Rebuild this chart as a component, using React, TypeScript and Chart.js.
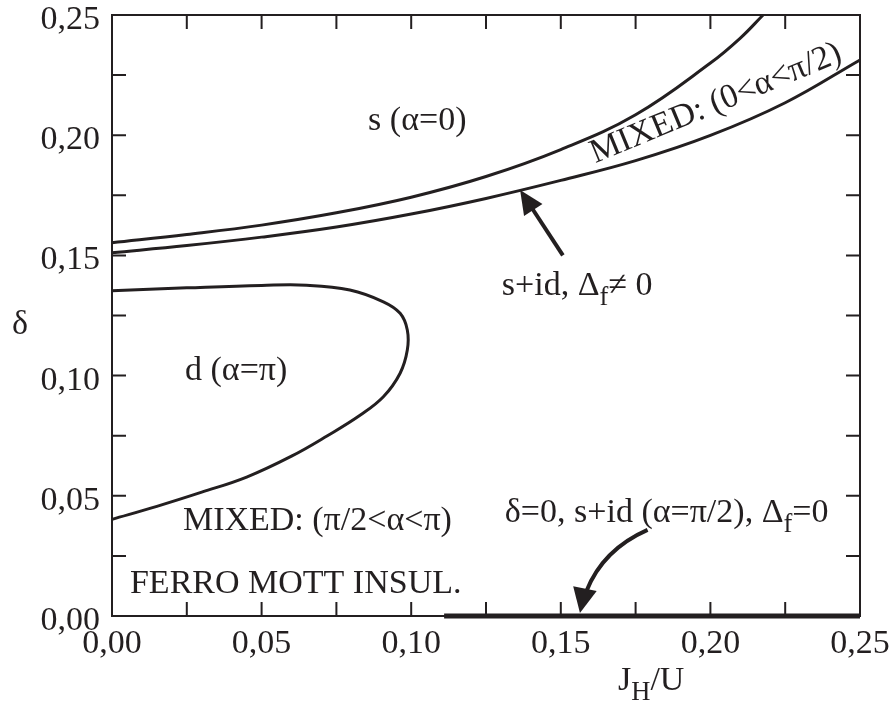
import React, { useEffect, useRef } from 'react';
import { Chart, registerables } from 'chart.js';
Chart.register(...registerables);

// ---- data (J_H/U , delta) ----
const upperX = [0, 0.025, 0.05, 0.075, 0.1, 0.125, 0.15, 0.175, 0.2, 0.21, 0.2176];
const upperY = [0.1553, 0.1587, 0.1626, 0.1677, 0.1742, 0.1828, 0.194, 0.2085, 0.23, 0.2404, 0.25];

const lowerX = [0, 0.025, 0.05, 0.075, 0.1, 0.125, 0.15, 0.175, 0.2, 0.225, 0.25];
const lowerY = [0.1511, 0.1541, 0.1576, 0.1618, 0.1672, 0.1737, 0.1812, 0.1894, 0.1999, 0.2135, 0.2313];

const dX = [0, 0.025, 0.05, 0.065, 0.0795, 0.0907, 0.0963, 0.0987, 0.0987, 0.0963, 0.0907, 0.0829, 0.072, 0.06, 0.045, 0.03, 0.015, 0];
const dY = [0.1353, 0.1365, 0.1375, 0.1376, 0.1356, 0.1307, 0.1259, 0.119, 0.1106, 0.101, 0.0912, 0.0835, 0.075, 0.0665, 0.0578, 0.0515, 0.0456, 0.0402];

const zeroX = [0.111, 0.25];
const zeroY = [0, 0];

const tickValues = [0, 0.025, 0.05, 0.075, 0.1, 0.125, 0.15, 0.175, 0.2, 0.225, 0.25];

// labels: text, anchor (data coords), rotation (deg)
const noteTexts = [
  's (α=0)',
  'MIXED: (0<α<π/2)',
  's+id, Δ_{f}≠ 0',
  'd (α=π)',
  'MIXED: (π/2<α<π)',
  'δ=0, s+id (α=π/2), Δ_{f}=0',
  'FERRO MOTT INSUL.',
];
const noteX = [0.0856, 0.1615, 0.1303, 0.0244, 0.0237, 0.1313, 0.006];
const noteY = [0.2022, 0.1883, 0.1335, 0.0982, 0.0358, 0.0391, 0.0096];
const noteRot = [0, -22.5, 0, 0, 0, 0, 0];

// arrows: tail -> tip (data coords); curved arrow has a control point
const arrowStraight = { from: [0.1507, 0.150], to: [0.1364, 0.1772] };
const arrowCurved = { from: [0.179, 0.0358], ctrl: [0.1604, 0.0256], to: [0.1564, 0.0012] };

const xTitle = 'J_{H}/U';
const yTitle = 'δ';

const INK = '#231f20';
const FONT = '"Liberation Serif", "Times New Roman", serif';
const SIZE = 34;

const toPts = (xs: number[], ys: number[]) => xs.map((x, i) => ({ x, y: ys[i] }));
const fmt = (v: number) => v.toFixed(2).replace('.', ',');

function parseRuns(s: string) {
  const runs: { t: string; sub: boolean }[] = [];
  const re = /_\{([^}]*)\}/g;
  let last = 0;
  let m: RegExpExecArray | null;
  while ((m = re.exec(s))) {
    if (m.index > last) runs.push({ t: s.slice(last, m.index), sub: false });
    runs.push({ t: m[1], sub: true });
    last = m.index + m[0].length;
  }
  if (last < s.length) runs.push({ t: s.slice(last), sub: false });
  return runs;
}

function drawRuns(ctx: CanvasRenderingContext2D, s: string, x: number, y: number, size: number) {
  let cx = x;
  ctx.textAlign = 'left';
  ctx.textBaseline = 'alphabetic';
  for (const r of parseRuns(s)) {
    const fs = r.sub ? size * 0.78 : size;
    ctx.font = `${fs}px ${FONT}`;
    ctx.fillText(r.t, cx, y + (r.sub ? size * 0.3 : 0));
    cx += ctx.measureText(r.t).width;
  }
}

function head(ctx: CanvasRenderingContext2D, tipX: number, tipY: number, ang: number, len: number, half: number) {
  const bx = tipX - Math.cos(ang) * len;
  const by = tipY - Math.sin(ang) * len;
  const nx = -Math.sin(ang) * half;
  const ny = Math.cos(ang) * half;
  ctx.beginPath();
  ctx.moveTo(tipX, tipY);
  ctx.lineTo(bx + nx, by + ny);
  ctx.lineTo(bx - nx, by - ny);
  ctx.closePath();
  ctx.fill();
}

const overlay = {
  id: 'overlay',
  afterDatasetsDraw(chart: any) {
    const { ctx, chartArea: a, scales } = chart;
    const xs = scales.x;
    const ys = scales.y;
    ctx.save();
    ctx.strokeStyle = INK;
    ctx.fillStyle = INK;

    // frame
    ctx.lineWidth = 2;
    ctx.strokeRect(a.left, a.top, a.right - a.left, a.bottom - a.top);

    // inward ticks on all sides
    const L = 14;
    ctx.beginPath();
    tickValues.forEach((v) => {
      const px = xs.getPixelForValue(v);
      ctx.moveTo(px, a.bottom);
      ctx.lineTo(px, a.bottom - L);
      ctx.moveTo(px, a.top);
      ctx.lineTo(px, a.top + L);
      const py = ys.getPixelForValue(v);
      ctx.moveTo(a.left, py);
      ctx.lineTo(a.left + L, py);
      ctx.moveTo(a.right, py);
      ctx.lineTo(a.right - L, py);
    });
    ctx.stroke();

    // notes
    noteTexts.forEach((t, i) => {
      const px = xs.getPixelForValue(noteX[i]);
      const py = ys.getPixelForValue(noteY[i]);
      ctx.save();
      ctx.translate(px, py);
      ctx.rotate((noteRot[i] * Math.PI) / 180);
      drawRuns(ctx, t, 0, 0, SIZE);
      ctx.restore();
    });

    // straight arrow
    {
      const x0 = xs.getPixelForValue(arrowStraight.from[0]);
      const y0 = ys.getPixelForValue(arrowStraight.from[1]);
      const x1 = xs.getPixelForValue(arrowStraight.to[0]);
      const y1 = ys.getPixelForValue(arrowStraight.to[1]);
      const ang = Math.atan2(y1 - y0, x1 - x0);
      const len = 24;
      ctx.lineWidth = 4;
      ctx.beginPath();
      ctx.moveTo(x0, y0);
      ctx.lineTo(x1 - Math.cos(ang) * (len - 4), y1 - Math.sin(ang) * (len - 4));
      ctx.stroke();
      head(ctx, x1, y1, ang, len, 11);
    }

    // curved arrow (quadratic), shaft cut before head
    {
      const p0 = [xs.getPixelForValue(arrowCurved.from[0]), ys.getPixelForValue(arrowCurved.from[1])];
      const c = [xs.getPixelForValue(arrowCurved.ctrl[0]), ys.getPixelForValue(arrowCurved.ctrl[1])];
      const p2 = [xs.getPixelForValue(arrowCurved.to[0]), ys.getPixelForValue(arrowCurved.to[1])];
      const s = 0.8;
      const q = (t: number, k: number) => (1 - t) * (1 - t) * p0[k] + 2 * (1 - t) * t * c[k] + t * t * p2[k];
      const nc = [p0[0] + s * (c[0] - p0[0]), p0[1] + s * (c[1] - p0[1])];
      const e = [q(s, 0), q(s, 1)];
      ctx.lineWidth = 4;
      ctx.beginPath();
      ctx.moveTo(p0[0], p0[1]);
      ctx.quadraticCurveTo(nc[0], nc[1], e[0], e[1]);
      ctx.stroke();
      const ang = Math.atan2(p2[1] - c[1], p2[0] - c[0]);
      head(ctx, p2[0], p2[1], ang, 25, 12);
    }

    // axis titles
    ctx.font = `${SIZE}px ${FONT}`;
    ctx.textAlign = 'center';
    ctx.textBaseline = 'alphabetic';
    ctx.fillText(yTitle, 20, (a.top + a.bottom) / 2 + 18);
    drawRuns(ctx, xTitle, 618, 690, SIZE);

    ctx.restore();
  },
};

const zeroPad = (s: any) => {
  s.paddingLeft = 0;
  s.paddingRight = 0;
  s.paddingTop = 0;
  s.paddingBottom = 0;
};

export default function App() {
  const ref = useRef<HTMLCanvasElement | null>(null);
  useEffect(() => {
    document.body.style.margin = '0';
    const canvas = ref.current!;
    const line = (xs: number[], ys: number[], w: number) => ({
      data: toPts(xs, ys),
      showLine: true,
      borderColor: INK,
      borderWidth: w,
      pointRadius: 0,
      pointHoverRadius: 0,
      tension: 0.4,
      fill: false,
      clip: false as any,
    });
    const chart = new Chart(canvas, {
      type: 'scatter',
      data: {
        datasets: [
          line(upperX, upperY, 3),
          line(lowerX, lowerY, 3),
          line(dX, dY, 3),
          { ...line(zeroX, zeroY, 5), tension: 0 },
        ],
      },
      options: {
        animation: false,
        responsive: false,
        devicePixelRatio: 1,
        events: [],
        layout: { autoPadding: false, padding: { left: 0, top: 15, right: 32, bottom: 0 } } as any,
        plugins: { legend: { display: false }, tooltip: { enabled: false } },
        scales: {
          x: {
            type: 'linear',
            min: 0,
            max: 0.25,
            grid: { display: false, drawTicks: false },
            border: { display: false },
            afterFit: (s: any) => { s.height = 86; zeroPad(s); },
            ticks: {
              stepSize: 0.05,
              autoSkip: false,
              maxRotation: 0,
              minRotation: 0,
              padding: 8,
              color: INK,
              font: { family: FONT, size: SIZE },
              callback: (v: any) => fmt(Number(v)),
            },
          },
          y: {
            type: 'linear',
            min: 0,
            max: 0.25,
            grid: { display: false, drawTicks: false },
            border: { display: false },
            afterFit: (s: any) => { s.width = 112; zeroPad(s); },
            ticks: {
              stepSize: 0.05,
              autoSkip: false,
              padding: 12,
              labelOffset: 5,
              color: INK,
              font: { family: FONT, size: SIZE },
              callback: (v: any) => fmt(Number(v)),
            },
          },
        },
      },
      plugins: [overlay],
    });
    return () => chart.destroy();
  }, []);
  return (
    <div style={{ position: 'absolute', left: 0, top: 0, width: 892, height: 702 }}>
      <canvas ref={ref} width={892} height={702} style={{ width: 892, height: 702, display: 'block' }} />
    </div>
  );
}
